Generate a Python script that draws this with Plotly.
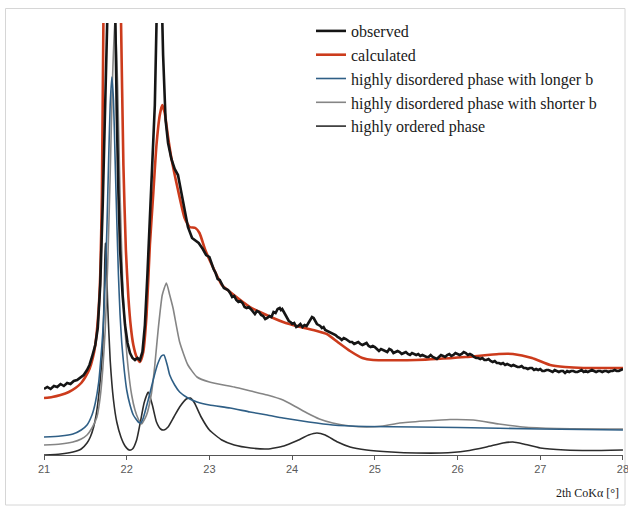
import plotly.graph_objects as go

# ---------------- data ----------------
obs_x = [21.00,21.04,21.08,21.12,21.16,21.20,21.24,21.28,21.32,21.36,21.40,21.44,21.48,21.52,21.55,21.58,
         21.62,21.65,21.68,21.71,21.74,21.76,21.80,21.82,21.84,21.86,21.88,21.90,21.92,21.95,21.98,22.01,
         22.04,22.07,22.10,22.13,22.16,22.19,22.22,22.25,22.28,22.31,22.34,22.36,22.39,22.42,22.44,22.47,
         22.50,22.54,22.58,22.62,22.66,22.70,22.74,22.79,22.83,22.87,22.92,22.96,
         23.000,23.025,23.050,23.075,23.100,23.125,23.150,23.175,23.200,23.225,23.250,23.275,23.300,23.325,
         23.350,23.375,23.400,23.425,23.450,23.475,23.500,23.525,23.550,23.575,23.600,23.625,23.650,23.675,
         23.700,23.725,23.750,23.775,23.800,23.825,23.850,23.865,23.880,23.900,23.920,23.940,23.960,23.980,
         24.000,24.025,24.050,24.075,24.100,24.125,24.150,24.175,24.200,24.220,24.240,24.260,24.280,24.300,
         24.320,24.340,24.360,24.380,24.400,24.425,24.450,24.475,24.500,24.525,24.550,24.575,24.600,24.625,
         24.650,24.675,24.700,24.725,24.750,24.775,24.800,24.825,24.850,24.875,24.900,24.925,24.950,24.975,
         25.000,25.025,25.050,25.075,25.100,25.125,25.150,25.175,25.200,25.225,25.250,25.275,25.300,25.325,
         25.350,25.375,25.400,25.425,25.450,25.475,25.500,25.525,25.550,25.575,25.600,25.625,25.650,25.675,
         25.700,25.725,25.750,25.775,25.800,25.825,25.850,25.875,25.900,25.925,25.950,25.975,26.000,26.025,
         26.050,26.075,26.100,26.125,26.150,26.175,26.200,26.225,26.250,26.275,26.300,26.325,26.350,26.375,
         26.400,26.425,26.450,26.475,26.500,26.525,26.550,26.575,26.600,26.625,26.650,26.675,26.700,26.725,
         26.750,26.775,26.800,26.825,26.850,26.875,26.900,26.925,26.950,26.975,27.000,27.025,27.050,27.075,
         27.100,27.125,27.150,27.175,27.200,27.225,27.250,27.275,27.300,27.325,27.350,27.375,27.400,27.425,
         27.450,27.475,27.500,27.525,27.550,27.575,27.600,27.625,27.650,27.675,27.700,27.725,27.750,27.775,
         27.800,27.825,27.850,27.875,27.900,27.925,27.950,27.975,28.000]
obs_y = [66,68,66,69,68,71,69,72,71,74,75,78,80,85,90,98,
         110,127,170,250,360,440,600,620,560,440,340,262,205,160,130,112,
         102,97,95,97,95,103,130,180,240,295,350,430,520,470,400,335,
         312,296,286,280,262,245,228,217,214,212,206,200,
         198,191,186,182,176,175,171,167,166,165,162,158,159,155,
         153,154,152,148,147,148,146,144,141,144,143,140,139,136,
         137,139,138,143,142,146,147,145,146,143,140,137,134,133,
         131,132,128,129,131,128,130,129,133,136,138,137,134,131,
         130,129,127,128,125,124,123,122,121,120,118,117,115,117,
         116,114,113,113,111,112,113,111,110,111,112,109,108,109,
         108,106,104,106,105,104,103,106,105,102,103,104,103,101,
         102,103,101,100,102,101,100,101,99,100,99,98,98,100,
         98,97,96,98,100,99,98,100,101,99,100,102,101,100,
         101,103,102,100,101,100,98,97,97,96,97,95,95,96,
         94,93,94,92,92,91,92,90,91,90,89,90,89,88,
         88,89,87,87,86,87,87,85,86,85,86,84,84,85,
         85,84,83,85,84,83,84,84,82,84,83,84,84,83,
         83,84,85,83,84,83,84,85,84,83,84,84,83,84,
         84,83,84,84,85,84,84,85,86]

calc_x = [21.00,21.10,21.20,21.30,21.38,21.45,21.50,21.55,21.59,21.62,21.66,21.68,21.70,21.72,21.76,21.82,
          21.88,21.93,21.96,21.99,22.02,22.05,22.08,22.12,22.16,22.20,22.24,22.28,22.32,22.36,22.40,22.43,
          22.46,22.50,22.54,22.62,22.70,22.76,22.83,22.88,22.95,23.03,23.15,23.25,23.49,23.61,23.89,24.10,
          24.30,24.42,24.55,24.70,24.85,24.98,25.50,26.10,26.50,26.67,26.90,27.12,27.30,27.52,28.00]
calc_y = [57,58,60,63,67,72,78,86,97,110,145,180,260,450,650,750,
          650,440,290,205,158,128,110,98,93,103,140,210,260,310,340,350,
          342,318,297,265,237,228,227,222,205,190,170,163,148,143,133,128,
          124,121,113,104,97,95,95,98,101,101,97,90,88,87,87]

longer_x = [21.00,21.20,21.35,21.45,21.52,21.58,21.62,21.66,21.70,21.72,21.74,21.76,21.78,21.80,21.82,21.84,
            21.86,21.88,21.90,21.92,21.94,21.97,22.00,22.04,22.08,22.14,22.17,22.20,22.26,22.32,22.37,22.42,
            22.45,22.49,22.52,22.58,22.64,22.74,22.85,23.00,23.25,23.49,23.70,23.89,24.20,24.49,24.90,25.50,
            26.00,27.00,28.00]
longer_y = [18,19,21,25,30,40,52,72,110,135,175,225,290,350,378,355,
            295,235,180,140,112,85,65,50,40,33,32,37,55,75,90,99,
            100,90,80,70,63,57,53,50,47,43,40,37,33,30,28.5,28,
            27.5,26,25]

shorter_x = [21.00,21.20,21.35,21.45,21.52,21.58,21.64,21.68,21.71,21.74,21.77,21.80,21.83,21.86,21.89,21.92,
             21.95,21.98,22.02,22.06,22.10,22.14,22.18,22.24,22.30,22.34,22.38,22.43,22.48,22.52,22.56,22.64,
             22.74,22.85,23.00,23.30,23.50,23.70,23.89,24.05,24.18,24.33,24.49,24.70,24.90,25.10,25.30,25.60,
             25.91,26.19,26.50,26.79,27.20,28.00]
shorter_y = [10,11,13,16,20,27,38,58,85,125,190,280,380,440,370,260,
             175,125,85,60,45,36,31,40,62,90,125,160,172,160,147,113,
             90,78,73,68,64,60,55,48,42,36,32,29,28,29,32,34,
             35.5,35,31,28,26.5,26]

ordered_x = [21.00,21.20,21.35,21.45,21.52,21.56,21.60,21.64,21.68,21.71,21.73,21.74,21.75,21.77,21.80,21.84,
             21.88,21.93,21.98,22.03,22.07,22.12,22.17,22.21,22.26,22.31,22.36,22.41,22.45,22.50,22.57,22.64,
             22.72,22.77,22.82,22.90,23.00,23.15,23.30,23.50,23.70,23.90,24.05,24.20,24.30,24.40,24.55,24.70,
             24.90,25.20,25.50,25.80,26.10,26.35,26.55,26.67,26.80,27.00,27.30,27.60,28.00]
ordered_y = [0,1,3,6,12,18,28,45,75,108,170,212,205,150,95,55,
             33,18,9,5,6,15,35,52,63,50,33,26,25,28,38,48,
             56,57,52,38,25,15,10,7,6,9,14,20,22,20,13,8,
             5,3,2,2,4,8,12,13,11,7,5,4.5,5]

tick_vals = [21, 22, 23, 24, 25, 26, 27, 28]
tick_text = ["21", "22", "23", "24", "25", "26", "27", "28"]

names = ["observed", "calculated", "highly disordered phase with longer b",
         "highly disordered phase with shorter b", "highly ordered phase"]

# ---------------- figure ----------------
fig = go.Figure()
spl = dict(shape="spline", smoothing=0.5)

fig.add_trace(go.Scatter(x=ordered_x, y=ordered_y, mode="lines", name=names[4], legendrank=5,
                         line=dict(color="#2d2d2d", width=1.6, **spl)))
fig.add_trace(go.Scatter(x=shorter_x, y=shorter_y, mode="lines", name=names[3], legendrank=4,
                         line=dict(color="#858585", width=1.6, **spl)))
fig.add_trace(go.Scatter(x=longer_x, y=longer_y, mode="lines", name=names[2], legendrank=3,
                         line=dict(color="#2f5f86", width=1.6, **spl)))
fig.add_trace(go.Scatter(x=calc_x, y=calc_y, mode="lines", name=names[1], legendrank=2,
                         line=dict(color="#cc3b1c", width=2.6, **spl)))
fig.add_trace(go.Scatter(x=obs_x, y=obs_y, mode="lines", name=names[0], legendrank=1,
                         line=dict(color="#151515", width=2.6, shape="linear")))

L, R, T, B = 44, 5, 23, 54
W, H = 628, 509
pw, ph = W - L - R, H - T - B

def px(xp):
    return (xp - L) / pw

def py(yp):
    return (H - B - yp) / ph

fig.update_layout(
    width=W, height=H,
    margin=dict(l=L, r=R, t=T, b=B, autoexpand=False),
    paper_bgcolor="white", plot_bgcolor="white",
    showlegend=True,
    legend=dict(x=px(311), y=py(14), xanchor="left", yanchor="top",
                bgcolor="rgba(0,0,0,0)", borderwidth=0,
                font=dict(family="Liberation Serif", size=16, color="#1a1a1a"),
                tracegroupgap=0),
    xaxis=dict(range=[21, 28.0005], tickvals=tick_vals, ticktext=tick_text, automargin=False,
               showgrid=False, zeroline=False, showline=True, linecolor="#555555", linewidth=1,
               ticks="outside", ticklen=4, tickcolor="#555555", ticklabeloverflow="allow",
               tickfont=dict(family="Liberation Sans", size=11, color="#595959")),
    yaxis=dict(range=[0, 432], visible=False, showgrid=False, zeroline=False, automargin=False),
    shapes=[dict(type="rect", xref="paper", yref="paper",
                 x0=px(5.5), x1=px(625), y0=py(505), y1=py(8.5),
                 line=dict(color="#d6d6d6", width=1), fillcolor="rgba(0,0,0,0)", layer="below")],
    annotations=[dict(text="2th CoKα [°]", xref="paper", yref="paper",
                      x=px(621), y=py(493), xanchor="right", yanchor="middle", showarrow=False,
                      font=dict(family="Liberation Serif", size=12, color="#1a1a1a"))],
)

fig.write_html("out.html")
